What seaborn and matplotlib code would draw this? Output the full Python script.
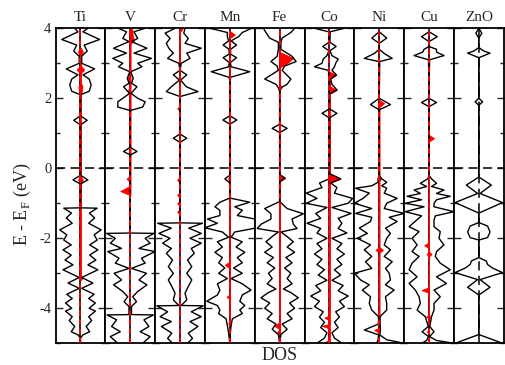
import numpy as np
import pandas as pd
import matplotlib
matplotlib.use("Agg")
import matplotlib.pyplot as plt
import seaborn as sns

# ---------------- data: (E, DOS up, DOS down) ; (E, v) means same on both sides
panels = ["Ti", "V", "Cr", "Mn", "Fe", "Co", "Ni", "Cu", "ZnO"]

ti_tdos = [(4.0, 0.3, 0.23), (3.9, 0.1), (3.68, 0.77, 0.75), (3.52, 0.15), (3.35, 0.27), (3.2, 0.05),
           (3.0, 0.05), (2.84, 0.57), (2.67, 0.1), (2.55, 0.35), (2.38, 0.43), (2.2, 0.35), (2.1, 0),
           (1.5, 0), (1.37, 0.27), (1.24, 0), (-0.2, 0), (-0.33, 0.3), (-0.45, 0), (-1.13, 0),
           (-1.14, 0.67), (-1.28, 0.36), (-1.42, 0.57), (-1.57, 0.33), (-1.76, 0.83), (-1.9, 0.55),
           (-2.05, 0.67), (-2.19, 0.37), (-2.33, 0.7), (-2.48, 0.37), (-2.62, 0.62), (-2.76, 0.3),
           (-2.9, 0.7), (-3.12, 0.05), (-3.28, 0.5), (-3.43, 0.05), (-3.6, 0.55), (-3.72, 0.33),
           (-3.85, 0.6), (-4.0, 0.35), (-4.08, 0.6), (-4.24, 0.33), (-4.35, 0.45), (-4.52, 0.23),
           (-4.67, 0.37), (-4.76, 0.1), (-4.85, 0), (-5.0, 0)]
ti_pdos = [(3.45, 0), (3.33, 0.1), (3.2, 0), (2.95, 0), (2.82, 0.15), (2.7, 0), (2.45, 0), (2.35, 0.08),
           (2.2, 0.06), (2.1, 0), (-0.22, 0), (-0.33, 0.1), (-0.44, 0), (-3.05, 0), (-3.13, 0.08),
           (-3.2, 0)]

v_tdos = [(4.0, 0.59, 0.48), (3.9, 0.15), (3.71, 0.3), (3.62, 0.05), (3.43, 0.67), (3.29, 0.15),
          (3.14, 0.85, 0.7), (3.0, 0.3), (2.9, 0.47), (2.76, 0.02), (2.57, 0.12), (2.43, 0.05),
          (2.33, 0.27), (2.14, 0.03), (2.0, 0.3), (1.9, 0.6, 0.5), (1.75, 0.5), (1.65, 0), (0.6, 0),
          (0.48, 0.27), (0.38, 0), (-1.85, 0), (-1.86, 0.95), (-2.0, 0.6), (-2.14, 0.8), (-2.29, 0.35),
          (-2.38, 1.0, 0.9), (-2.57, 0.45), (-2.71, 0.6), (-2.86, 0.05), (-3.0, 0.65), (-3.19, 0.35),
          (-3.33, 0.67), (-3.52, 0.3), (-3.67, 0.1), (-3.81, 0.25), (-3.95, 0.05), (-4.18, 0.05),
          (-4.19, 0.93), (-4.33, 0.55), (-4.52, 0.75), (-4.67, 0.4), (-4.81, 0.8), (-5.0, 0.5)]
v_pdos = [(4.0, 0.08, 0), (3.8, 0.1, 0), (3.65, 0.15, 0), (3.55, 0, 0), (2.66, 0, 0), (2.57, 0, 0.15),
          (2.48, 0, 0), (2.3, 0, 0), (2.22, 0, 0.12), (2.14, 0, 0), (-0.2, 0, 0), (-0.3, 0, 0.15),
          (-0.4, 0, 0), (-0.5, 0, 0), (-0.65, 0, 0.4), (-0.77, 0, 0)]

cr_tdos = [(4.0, 0.2), (3.86, 0.15, 0.6), (3.71, 0.33, 0.4), (3.57, 0.2, 0.55), (3.43, 0.85, 0.45),
           (3.29, 0.27), (3.14, 0.4, 0.5), (3.0, 0.05), (2.8, 0), (2.67, 0.27), (2.52, 0.02),
           (2.33, 0.25, 0.35), (2.19, 0.72, 0.55), (2.05, 0), (0.98, 0), (0.86, 0.27), (0.74, 0),
           (-1.56, 0), (-1.57, 0.9), (-1.71, 0.35), (-1.86, 0.85), (-2.0, 0.4), (-2.14, 0.85, 0.7),
           (-2.29, 0.45, 0.35), (-2.43, 0.57, 0.55), (-2.62, 0.3), (-2.81, 0.47), (-3.0, 0.27),
           (-3.19, 0.47), (-3.38, 0.33), (-3.57, 0.2), (-3.76, 0.27), (-3.92, 0.05), (-3.93, 0.93),
           (-4.1, 0.45, 0.5), (-4.24, 0.85, 0.8), (-4.38, 0.4, 0.35), (-4.52, 0.72, 0.75),
           (-4.71, 0.33), (-4.86, 0.5), (-5.0, 0.3)]
cr_pdos = [(4.05, 0, 0), (3.98, 0.1, 0), (3.9, 0, 0), (1.78, 0, 0), (1.71, 0, 0.12), (1.64, 0, 0),
           (-0.24, 0, 0), (-0.33, 0, 0.12), (-0.42, 0, 0), (-0.68, 0, 0), (-0.76, 0, 0.12),
           (-0.84, 0, 0), (-0.92, 0, 0), (-1.0, 0, 0.12), (-1.08, 0, 0), (-1.16, 0, 0),
           (-1.24, 0, 0.12), (-1.32, 0, 0)]

mn_tdos = [(4.0, 0.87, 0.8), (3.88, 0.5, 0.1), (3.76, 0.35, 0.1), (3.64, 0.05), (3.52, 0.27),
           (3.4, 0.03), (3.26, 0.03), (3.16, 0.27), (3.02, 0.02), (2.9, 0.05), (2.76, 0.8, 0.75),
           (2.6, 0.03), (2.5, 0), (1.5, 0), (1.38, 0.28), (1.26, 0), (-0.2, 0), (-0.3, 0, 0.2),
           (-0.42, 0), (-0.85, 0), (-0.97, 0.8, 0.4), (-1.1, 0.2, 0.6), (-1.2, 0.5, 0.4),
           (-1.35, 0.3, 0.4), (-1.45, 1.0, 0.9), (-1.57, 1.0, 0.5), (-1.7, 1.1, 1.0), (-1.82, 0.2, 0.3),
           (-1.97, 0.05), (-2.1, 0.5), (-2.25, 0.25, 0.3), (-2.4, 0.6), (-2.55, 0.3), (-2.7, 0.5, 0.45),
           (-2.85, 0.15, 0.2), (-3.0, 0.5, 0.45), (-3.15, 0.05, 0.1), (-3.3, 0.5), (-3.48, 0.85, 0.4),
           (-3.62, 0.5), (-3.8, 0.4, 0.93), (-3.92, 0.6, 0.5), (-4.05, 0.4), (-4.15, 0.5, 0.45),
           (-4.3, 0.1, 0.15), (-4.5, 0.05, 0.1), (-4.7, 0.02, 0.05), (-5.0, 0)]
mn_pdos = [(3.92, 0, 0), (3.82, 0.2, 0), (3.72, 0, 0), (-0.24, 0, 0), (-0.3, 0, 0.08), (-0.36, 0, 0),
           (-2.66, 0, 0), (-2.76, 0, 0.2), (-2.86, 0, 0), (-3.6, 0, 0), (-3.67, 0, 0.13),
           (-3.75, 0, 0), (-4.38, 0, 0), (-4.43, 0, 0.07), (-4.5, 0, 0)]

fe_tdos = [(4.0, 0.6, 0.65), (3.88, 0.45, 0.55), (3.72, 0.1, 0.4), (3.6, 0.05), (3.4, 0.05),
           (3.2, 0.5, 0.1), (3.05, 0.66, 0.35), (2.92, 0.2, 0.1), (2.8, 0.1, 0.05), (2.55, 0.45, 0.6),
           (2.4, 0.3, 0.15), (2.3, 0.05), (2.2, 0), (1.26, 0), (1.14, 0.3), (1.02, 0), (-0.18, 0),
           (-0.28, 0.22, 0), (-0.38, 0), (-0.95, 0), (-1.15, 0.3, 0.6), (-1.3, 0.95, 0.35),
           (-1.45, 0.5, 0.35), (-1.6, 0.55, 0.75), (-1.72, 0.7, 0.9), (-1.82, 0.05), (-1.95, 0.3),
           (-2.1, 0.55), (-2.25, 0.3), (-2.4, 0.6), (-2.55, 0.25), (-2.7, 0.5), (-2.85, 0.2),
           (-3.0, 0.45), (-3.15, 0.3), (-3.3, 0.5), (-3.45, 0.15), (-3.55, 0.45), (-3.7, 0.75),
           (-3.85, 0.4), (-4.0, 0.6), (-4.15, 0.3), (-4.3, 0.5), (-4.45, 0.1, 0.15), (-4.6, 0.3),
           (-4.75, 0.05), (-5.0, 0)]
fe_pdos = [(3.32, 0, 0), (3.15, 0.55, 0), (3.0, 0.3, 0), (2.88, 0, 0), (2.4, 0, 0), (2.32, 0.1, 0),
           (2.24, 0, 0), (-0.18, 0, 0), (-0.28, 0.22, 0), (-0.38, 0, 0), (-4.4, 0, 0), (-4.5, 0, 0.22),
           (-4.6, 0, 0), (-4.68, 0, 0.1), (-4.76, 0, 0)]

co_tdos = [(4.0, 0.6), (3.9, 0.03), (3.6, 0.02), (3.48, 0.27), (3.36, 0.02), (3.22, 0.1),
           (3.12, 0.35, 0.25), (3.0, 0.25, 0.3), (2.9, 0.2, 0.6), (2.8, 0.1, 0.05), (2.67, 0.28, 0.02),
           (2.55, 0.05, 0.02), (2.4, 0.1, 0), (2.24, 0.3, 0), (2.12, 0), (1.7, 0), (1.57, 0.3),
           (1.44, 0), (-0.15, 0), (-0.3, 0.45, 0), (-0.42, 0.05, 0.4), (-0.55, 0.3), (-0.71, 0.2, 0.93),
           (-0.86, 0.93, 0.5), (-1.0, 0.75, 0.93), (-1.12, 0.1), (-1.29, 0.87, 0.55), (-1.43, 0.35),
           (-1.57, 0.5, 0.9), (-1.72, 0.35), (-1.85, 0.7, 0.5), (-2.0, 0.1), (-2.15, 0.5), (-2.3, 0.3),
           (-2.45, 0.6), (-2.6, 0.3), (-2.75, 0.5), (-2.9, 0.2), (-3.05, 0.45), (-3.2, 0.1),
           (-3.35, 0.55), (-3.5, 0.35), (-3.65, 0.75), (-3.8, 0.4), (-3.95, 0.6), (-4.1, 0.25),
           (-4.25, 0.4), (-4.4, 0.2), (-4.55, 0.35), (-4.7, 0.1), (-4.85, 0.2), (-5.0, 0.5)]
co_pdos = [(2.76, 0, 0), (2.67, 0.28, 0), (2.55, 0, 0), (2.35, 0, 0), (2.24, 0.3, 0), (2.12, 0, 0),
           (-0.15, 0, 0), (-0.3, 0.45, 0), (-0.42, 0, 0), (-4.2, 0, 0), (-4.27, 0, 0.2), (-4.34, 0, 0),
           (-4.45, 0, 0), (-4.5, 0, 0.3), (-4.58, 0, 0), (-4.9, 0, 0), (-4.97, 0, 0.2), (-5.0, 0, 0.2)]

ni_tdos = [(3.9, 0), (3.72, 0.3), (3.57, 0), (3.4, 0), (3.28, 0.2), (3.14, 0.52, 0.6), (3.05, 0.02),
           (2.0, 0), (1.82, 0.45, 0.35), (1.67, 0), (-0.2, 0), (-0.3, 0.1, 0.05), (-0.4, 0.3, 0.05),
           (-0.5, 0.1, 0.3), (-0.57, 0.3, 0.95), (-0.71, 0.2, 0.4), (-0.86, 0.72, 0.65), (-1.0, 0.3, 1.0),
           (-1.15, 0.2, 0.3), (-1.29, 1.0, 0.95), (-1.4, 0.4, 0.3), (-1.52, 0.72, 0.35),
           (-1.71, 0.25, 0.8), (-1.86, 0.45, 0.48), (-2.0, 0.3, 0.88), (-2.19, 0.2, 0.35),
           (-2.33, 0.45, 0.6), (-2.52, 0.2, 0.3), (-2.67, 0.52, 0.55), (-2.86, 0.25, 0.3),
           (-3.0, 0.4, 1.0), (-3.19, 0.45, 0.75), (-3.33, 0.25, 0.4), (-3.48, 0.6, 0.68),
           (-3.67, 0.25, 0.35), (-3.86, 0.3, 0.4), (-4.05, 0.3), (-4.24, 0.03), (-4.45, 0.03),
           (-4.62, 0.05, 0.6), (-4.76, 0.02), (-4.9, 0.3, 0.05), (-5.0, 1.0, 0.1)]
ni_pdos = [(1.95, 0, 0), (1.86, 0.2, 0), (1.75, 0, 0), (-0.24, 0, 0), (-0.3, 0.08, 0.05),
           (-0.36, 0, 0), (-2.25, 0, 0), (-2.33, 0.15, 0.15), (-2.42, 0, 0), (-4.55, 0, 0),
           (-4.62, 0, 0.2), (-4.7, 0, 0)]

cu_tdos = [(3.9, 0), (3.76, 0.33, 0.3), (3.62, 0), (3.48, 0), (3.4, 0.3, 0.2), (3.32, 0.3, 0.25),
           (3.22, 0.6), (3.1, 0.02), (2.0, 0), (1.88, 0.3), (1.76, 0), (-0.2, 0), (-0.3, 0.1, 0.05),
           (-0.43, 0.3, 0.35), (-0.52, 0.1), (-0.62, 0.6), (-0.72, 0.3, 0.35), (-0.8, 0.85, 0.88),
           (-0.9, 0.3), (-1.0, 0.2, 0.95), (-1.1, 0.2), (-1.24, 1.0, 0.95), (-1.36, 0.25, 0.3),
           (-1.48, 0.2, 0.5), (-1.67, 0.2, 0.8), (-1.81, 0.45, 0.4), (-2.0, 0.4, 0.68),
           (-2.19, 0.6, 0.48), (-2.38, 0.3, 0.68), (-2.52, 0.25, 0.4), (-2.71, 0.45, 0.68),
           (-2.9, 0.85, 0.8), (-3.1, 0.3, 0.48), (-3.29, 0.7, 0.8), (-3.48, 0.2, 0.55),
           (-3.67, 0.45, 0.4), (-3.86, 0.2, 0.35), (-4.05, 0.2, 0.48), (-4.24, 0.1, 0.15),
           (-4.52, 0.03), (-4.67, 0.2, 0.28), (-4.81, 0.02), (-4.92, 0.3, 0.1), (-5.0, 1.0, 0.3)]
cu_pdos = [(0.95, 0, 0), (0.86, 0.2, 0), (0.76, 0, 0), (-2.12, 0, 0), (-2.2, 0, 0.2), (-2.28, 0, 0),
           (-2.38, 0, 0), (-2.45, 0.1, 0.1), (-2.52, 0, 0), (-3.4, 0, 0), (-3.48, 0, 0.3),
           (-3.56, 0, 0), (-4.18, 0, 0), (-4.24, 0.05, 0.12), (-4.3, 0, 0), (-4.62, 0, 0),
           (-4.67, 0, 0.1), (-4.72, 0, 0)]

zno_tdos = [(4.0, 0), (3.86, 0.12), (3.72, 0), (3.45, 0), (3.35, 0.2), (3.29, 0.45), (3.16, 0),
            (2.0, 0), (1.9, 0.15), (1.8, 0), (-0.25, 0), (-0.48, 0.5), (-0.72, 0.05), (-0.98, 0.95),
            (-1.28, 0), (-1.55, 0), (-1.65, 0.35), (-1.82, 0.45), (-1.98, 0.35), (-2.05, 0),
            (-2.55, 0), (-2.65, 0.3), (-2.75, 0.35), (-2.85, 0.55), (-2.98, 0.95), (-3.18, 0.05),
            (-3.4, 0.45), (-3.62, 0), (-4.75, 0), (-5.0, 0.95)]
zno_pdos = []

tdos_all = [ti_tdos, v_tdos, cr_tdos, mn_tdos, fe_tdos, co_tdos, ni_tdos, cu_tdos, zno_tdos]
pdos_all = [ti_pdos, v_pdos, cr_pdos, mn_pdos, fe_pdos, co_pdos, ni_pdos, cu_pdos, zno_pdos]

y_ticks = [-4, -2, 0, 2, 4]


def to_frame(rows):
    e = [r[0] for r in rows]
    up = [r[1] for r in rows]
    dn = [r[2] if len(r) > 2 else r[1] for r in rows]
    return pd.DataFrame({"E": e, "up": up, "dn": [-v for v in dn]})


# ---------------- style
sns.set_theme(style="ticks")
plt.rcParams["font.family"] = ["Liberation Serif", "DejaVu Serif"]
plt.rcParams["mathtext.fontset"] = "custom"
plt.rcParams["mathtext.rm"] = "Liberation Serif"
plt.rcParams["axes.unicode_minus"] = False

fig, axes = plt.subplots(1, len(panels), sharey=True, figsize=(5.05, 3.65), dpi=100)
fig.subplots_adjust(left=0.110, right=0.9975, bottom=0.0595, top=0.9225, wspace=0)

for ax, name, trows, prows in zip(axes, panels, tdos_all, pdos_all):
    doped = name != "ZnO"
    # center line
    if doped:
        ax.axvline(0, color="black", lw=1.2, zorder=1)
    else:
        ax.axvline(0, color="black", lw=1.1, ls=(0, (6, 3.5)), zorder=1)
    # red partial DOS
    if prows:
        pdf = to_frame(prows)
        ax.fill_betweenx(pdf["E"], 0, pdf["up"], color="red", lw=0.6, zorder=2)
        ax.fill_betweenx(pdf["E"], 0, pdf["dn"], color="red", lw=0.6, zorder=2)
    # total DOS
    tdf = to_frame(trows)
    sns.lineplot(data=tdf, x="up", y="E", orient="y", sort=False, estimator=None,
                 color="black", lw=1.0, ax=ax, legend=False, zorder=3)
    sns.lineplot(data=tdf, x="dn", y="E", orient="y", sort=False, estimator=None,
                 color="black", lw=1.0, ax=ax, legend=False, zorder=3)
    if doped:
        ax.axvline(0, color="red", lw=1.3, ls=(0, (3, 2)), zorder=4)
    # Fermi level
    ax.axhline(0, color="black", lw=1.1, ls=(0, (6, 3.5)), zorder=5)

    ax.set_xlim(-1, 1)
    ax.set_ylim(-5, 4)
    ax.set_xticks([])
    ax.set_xlabel("")
    ax.set_ylabel("")
    ax.set_title(name, fontsize=11, pad=5)
    ax.set_yticks(y_ticks)
    ax.set_yticks([-5, -3, -1, 1, 3], minor=True)
    ax.tick_params(axis="y", which="both", direction="in", left=True, right=True,
                   width=1.0, labelsize=10.5, pad=3)
    ax.tick_params(axis="y", which="major", length=5)
    ax.tick_params(axis="y", which="minor", length=3)
    for s in ax.spines.values():
        s.set_linewidth(1.3)
        s.set_color("black")

fig.text(0.045, 0.44, r"E - E$_\mathregular{F}$ (eV)", rotation=90, ha="center", va="center",
         fontsize=13)
fig.text(0.554, 0.027, "DOS", ha="center", va="center", fontsize=13)

fig.savefig("out.png", dpi=100)
